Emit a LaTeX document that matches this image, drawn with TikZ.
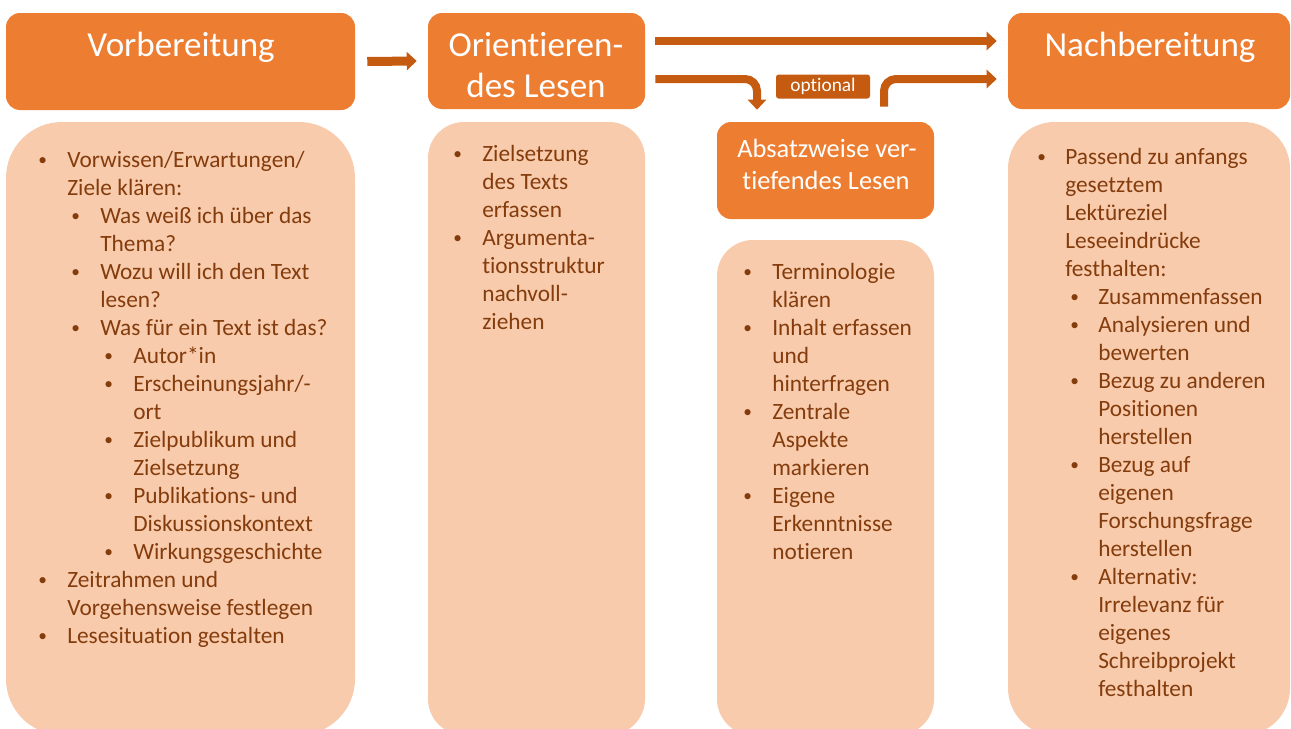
\documentclass[tikz,border=0pt]{standalone}
\usepackage{fontspec}
\setmainfont{Carlito}[Ligatures=NoCommon]
\usetikzlibrary{arrows.meta}
\definecolor{hdr}{HTML}{ED7D31}
\definecolor{bodyc}{HTML}{F8CBAD}
\definecolor{txt}{HTML}{843C0C}
\definecolor{arr}{HTML}{C55A11}
\begin{document}
\begin{tikzpicture}[x=0.75pt,y=-0.75pt,
  header/.style={fill=hdr, rounded corners=10.5pt, inner sep=0pt, draw=none},
  bodybox/.style={fill=bodyc, inner sep=0pt, draw=none},
  htext/.style={anchor=base, inner sep=0pt, text=white, font=\fontsize{26.3}{30}\selectfont},
  stext/.style={anchor=base, inner sep=0pt, text=white, font=\fontsize{19.8}{24}\selectfont},
  flow/.style={draw=arr, line width=6pt, rounded corners=9pt, -{Triangle[width=13.5pt,length=7.5pt]}},
  li/.style={anchor=base west, inner sep=0pt, text=txt, font=\fontsize{17.5}{21}\selectfont},
  bul/.style={anchor=base west, inner sep=0pt, text=txt, font=\fontsize{13}{15}\selectfont, yshift=1.2pt},
  ]
\useasboundingbox (0,0) rectangle (1291,728);
\clip (0,0) rectangle (1291,728);

% header boxes
\node[header, minimum width=261.75pt, minimum height=72.75pt] (vorh) at (180.5,61.5) {};
\node[header, minimum width=162.75pt, minimum height=72pt] (orih) at (536.5,61) {};
\node[header, minimum width=162.75pt, minimum height=72.75pt] (absh) at (825.5,170.5) {};
\node[header, minimum width=211.5pt, minimum height=72pt] (nachh) at (1149,61) {};

% body boxes
\node[bodybox, rounded corners=42pt, minimum width=261.75pt, minimum height=459.75pt] (vorb) at (180.5,428.5) {};
\node[bodybox, rounded corners=27pt, minimum width=162.75pt, minimum height=459.75pt] (orib) at (536.5,428.5) {};
\node[bodybox, rounded corners=27pt, minimum width=162.75pt, minimum height=371.25pt] (absb) at (825.5,487.5) {};
\node[bodybox, rounded corners=35pt, minimum width=211.5pt, minimum height=459.75pt] (nachb) at (1149,428.5) {};

% header texts
\node[htext] (vort) at (181,56) {Vorbereitung};
\node[htext] (orit1) at (536,56) {Orientieren-};
\node[htext] (orit2) at (536,97) {des Lesen};
\node[stext] (abst1) at (827,157) {Absatzweise ver-};
\node[stext] (abst2) at (826,189) {tiefendes Lesen};
\node[htext] (nacht) at (1150,56) {Nachbereitung};

% arrows
\draw[flow, line width=6.75pt] ([xshift=9pt]vorh.east) -- ([xshift=-8.25pt]orih.west);
\draw[flow] ([shift={(10,-20)}]orih.east) -- ([shift={(-11,-20)}]nachh.west);
\draw[flow] ([shift={(10,18)}]orih.east) -| ([shift={(-68.5,-12)}]absh.north);
\draw[flow] ([shift={(58.5,-15)}]absh.north) |- ([shift={(-11,18)}]nachh.west);
\node[fill=arr, rounded corners=2pt, minimum width=70.5pt, minimum height=18pt, inner sep=0pt,
      text=white, font=\fontsize{14.5}{16}\selectfont] (opt) at (823,86.5) {optional};

% Vorbereitung list
\foreach \x/\y/\t [count=\i] in {
  67/167/{Vorwissen/Erwartungen/},
  67/195/{Ziele klären:},
  100/223/{Was weiß ich über das},
  100/251/{Thema?},
  100/279/{Wozu will ich den Text},
  100/307/{lesen?},
  100/335/{Was für ein Text ist das?},
  133/363/{Autor*in},
  133/391/{Erscheinungsjahr/-},
  133/419/{ort},
  133/447/{Zielpublikum und},
  133/475/{Zielsetzung},
  133/503/{Publikations- und},
  133/531/{Diskussionskontext},
  133/559/{Wirkungsgeschichte},
  67/587/{Zeitrahmen und},
  67/615/{Vorgehensweise festlegen},
  67/643/{Lesesituation gestalten}}
  \node[li] (vl\i) at (\x,\y) {\t};
\foreach \x/\y [count=\i] in {38/167,71/223,71/279,71/335,104/363,104/391,104/447,104/503,104/559,38/587,38/643}
  \node[bul] (vbu\i) at (\x,\y) {•};

% Orientieren list
\foreach \x/\y/\t [count=\i] in {
  482/161/{Zielsetzung},
  482/189/{des Texts},
  482/217/{erfassen},
  482/245/{Argumenta-},
  482/273/{tionsstruktur},
  482/301/{nachvoll-},
  482/329/{ziehen}}
  \node[li] (ol\i) at (\x,\y) {\t};
\foreach \x/\y [count=\i] in {453/161,453/245}
  \node[bul] (obu\i) at (\x,\y) {•};

% Absatzweise list
\foreach \x/\y/\t [count=\i] in {
  772/279/{Terminologie},
  772/307/{klären},
  772/335/{Inhalt erfassen},
  772/363/{und},
  772/391/{hinterfragen},
  772/419/{Zentrale},
  772/447/{Aspekte},
  772/475/{markieren},
  772/503/{Eigene},
  772/531/{Erkenntnisse},
  772/559/{notieren}}
  \node[li] (al\i) at (\x,\y) {\t};
\foreach \x/\y [count=\i] in {743/279,743/335,743/419,743/503}
  \node[bul] (abu\i) at (\x,\y) {•};

% Nachbereitung list
\foreach \x/\y/\t [count=\i] in {
  1065/164/{Passend zu anfangs},
  1065/192/{gesetztem},
  1065/220/{Lektüreziel},
  1065/248/{Leseeindrücke},
  1065/276/{festhalten:},
  1098/304/{Zusammenfassen},
  1098/332/{Analysieren und},
  1098/360/{bewerten},
  1098/388/{Bezug zu anderen},
  1098/416/{Positionen},
  1098/444/{herstellen},
  1098/472/{Bezug auf},
  1098/500/{eigenen},
  1098/528/{Forschungsfrage},
  1098/556/{herstellen},
  1098/584/{Alternativ:},
  1098/612/{Irrelevanz für},
  1098/640/{eigenes},
  1098/668/{Schreibprojekt},
  1098/696/{festhalten}}
  \node[li] (nl\i) at (\x,\y) {\t};
\foreach \x/\y [count=\i] in {1037/164,1070/304,1070/332,1070/388,1070/472,1070/584}
  \node[bul] (nbu\i) at (\x,\y) {•};
\end{tikzpicture}
\end{document}
